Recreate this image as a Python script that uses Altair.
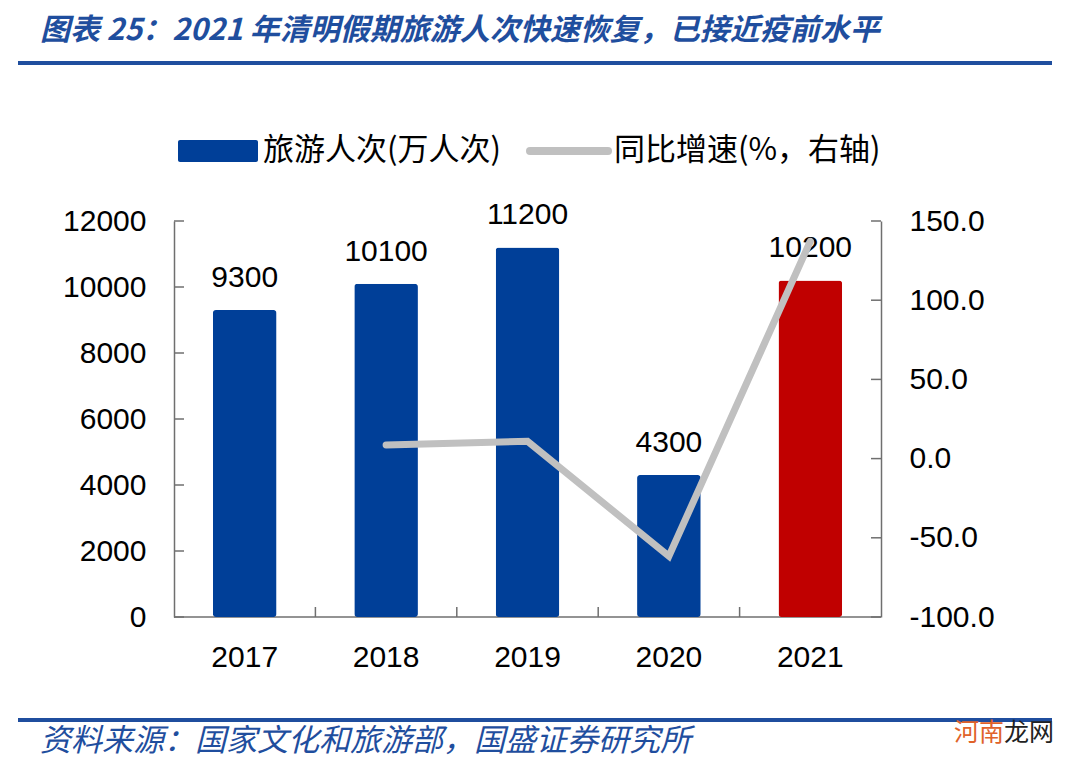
import altair as alt
import pandas as pd

years = ["2017", "2018", "2019", "2020", "2021"]
visitors = [9300, 10100, 11200, 4300, 10200]
growth = [None, 8.6, 10.9, -61.6, 137.2]
bar_colors = ["#003F98", "#003F98", "#003F98", "#003F98", "#C00000"]
left_ticks = [0, 2000, 4000, 6000, 8000, 10000, 12000]
right_ticks = [-100, -50, 0, 50, 100, 150]

title_text = "图表 25：2021 年清明假期旅游人次快速恢复，已接近疫前水平"
source_text = "资料来源：国家文化和旅游部，国盛证券研究所"
legend_labels = ["旅游人次(万人次)", "同比增速(%，右轴)"]
watermark = ["河南", "龙网"]

W, H = 707, 396
NUM_FONT = "Liberation Sans"
NUM_SIZE = 30
CJK_FONT = "Noto Sans CJK SC"
BLUE = "#1F4E9E"
BAR_BLUE = "#003F98"
GREY_LINE = "#C0C0C0"
AXIS_GREY = "#6F6F6F"

PAD_INNER = 0.55
PAD_OUTER = PAD_INNER / 2
STEP = W / (len(years) - PAD_INNER + 2 * PAD_OUTER)

df = pd.DataFrame({"year": years, "visitors": visitors, "growth": growth, "color": bar_colors})
gdf = df.dropna(subset=["growth"])
rt_df = pd.DataFrame({"growth": right_ticks})
lt_df = pd.DataFrame({"visitors": left_ticks})
xt_df = pd.DataFrame({"year": years[1:]})

x_scale = alt.Scale(type="band", domain=years, paddingInner=PAD_INNER, paddingOuter=PAD_OUTER)
left_scale = alt.Scale(domain=[0, 12000])
right_scale = alt.Scale(domain=[-100, 150])

# category baseline drawn first so bars sit over it
x_domain = alt.Chart(pd.DataFrame({"a": [0]})).mark_rule(color=AXIS_GREY, strokeWidth=1.5).encode(
    x=alt.value(0), x2=alt.value(W), y=alt.value(H)
)

bars = alt.Chart(df).mark_bar(cornerRadius=3).encode(
    x=alt.X("year:N", scale=x_scale, axis=None),
    y=alt.Y("visitors:Q", scale=left_scale, title=None,
            axis=alt.Axis(values=left_ticks, format="d", grid=False, labelFont=NUM_FONT,
                          labelFontSize=NUM_SIZE, labelColor="black", ticks=False,
                          domainColor=AXIS_GREY, domainWidth=1.5, labelPadding=28)),
    color=alt.Color("color:N", scale=None),
)

labels = alt.Chart(df).mark_text(font=NUM_FONT, fontSize=NUM_SIZE, color="black", dy=-23,
                                 baseline="alphabetic").encode(
    x=alt.X("year:N", scale=x_scale, axis=None),
    y=alt.Y("visitors:Q", scale=left_scale, axis=None),
    text=alt.Text("visitors:Q", format="d"),
)

x_labels = alt.Chart(df).mark_text(font=NUM_FONT, fontSize=NUM_SIZE, color="black",
                                   baseline="middle").encode(
    x=alt.X("year:N", scale=x_scale, axis=None),
    y=alt.value(H + 41),
    text="year:N",
)

# boundary ticks between categories, pointing up from the baseline
xticks = alt.Chart(xt_df).mark_rule(color=AXIS_GREY, strokeWidth=1.5, xOffset=-STEP / 2).encode(
    x=alt.X("year:N", scale=x_scale, axis=None),
    y=alt.value(H),
    y2=alt.value(H - 10),
)

# left axis ticks pointing inward
lticks = alt.Chart(lt_df).mark_rule(color=AXIS_GREY, strokeWidth=1.5).encode(
    y=alt.Y("visitors:Q", scale=left_scale, axis=None),
    x=alt.value(0),
    x2=alt.value(10),
)

line = alt.Chart(gdf).mark_line(color=GREY_LINE, strokeWidth=7, strokeCap="round").encode(
    x=alt.X("year:N", scale=x_scale, axis=None),
    y=alt.Y("growth:Q", scale=right_scale, title=None,
            axis=alt.Axis(orient="right", values=right_ticks, grid=False, ticks=False,
                          labelExpr="datum.value < 0 ? '-' + format(abs(datum.value), '.1f') : format(datum.value, '.1f')",
                          labelFont=NUM_FONT, labelFontSize=NUM_SIZE, labelColor="black",
                          labelPadding=28, domainColor=AXIS_GREY, domainWidth=1.5)),
)

# right axis ticks pointing inward
rticks = alt.Chart(rt_df).mark_rule(color=AXIS_GREY, strokeWidth=1.5).encode(
    y=alt.Y("growth:Q", scale=right_scale, axis=None),
    x=alt.value(W - 10),
    x2=alt.value(W),
)


def deco_text(txt, x, y, size, color, italic=False, bold=False, font=CJK_FONT):
    return alt.Chart(pd.DataFrame({"t": [txt]})).mark_text(
        align="left", baseline="middle", font=font, fontSize=size, color=color,
        fontStyle="italic" if italic else "normal",
        fontWeight="bold" if bold else "normal",
    ).encode(x=alt.value(x), y=alt.value(y), text="t:N")


def deco_rule(x1, x2, y, color, width, cap="butt"):
    return alt.Chart(pd.DataFrame({"a": [0]})).mark_rule(
        color=color, strokeWidth=width, strokeCap=cap
    ).encode(x=alt.value(x1), x2=alt.value(x2), y=alt.value(y))


title = deco_text(title_text, -134, -190, 30, BLUE, italic=True, bold=True)
top_line = deco_rule(-156, 878, -158, BLUE, 4)
bottom_line = deco_rule(-156, 878, 499, BLUE, 4)
source = deco_text(source_text, -134, 521, 31, BLUE, italic=True)

leg_rect = alt.Chart(pd.DataFrame({"a": [0]})).mark_rect(color=BAR_BLUE, cornerRadius=2).encode(
    x=alt.value(4), x2=alt.value(84), y=alt.value(-81), y2=alt.value(-59)
)
leg_text1 = deco_text(legend_labels[0], 89, -70, 31, "black")
leg_line = deco_rule(356, 434, -70, GREY_LINE, 8, cap="round")
leg_text2 = deco_text(legend_labels[1], 440, -70, 31, "black")

wm1 = deco_text(watermark[0], 780, 512, 25, "#E0622A")
wm2 = deco_text(watermark[1], 830, 512, 25, "#222222")

chart = alt.layer(
    x_domain, bars, labels, x_labels, xticks, lticks, line, rticks,
    title, top_line, bottom_line, source,
    leg_rect, leg_text1, leg_line, leg_text2, wm1, wm2,
).resolve_scale(y="independent").properties(
    width=W, height=H,
    padding={"left": 174, "top": 221, "right": 199, "bottom": 149},
    autosize=alt.AutoSizeParams(type="none"),
    background="white",
).configure_view(stroke=None)

chart.save("out.html", embed_options={"renderer": "svg", "actions": False})
